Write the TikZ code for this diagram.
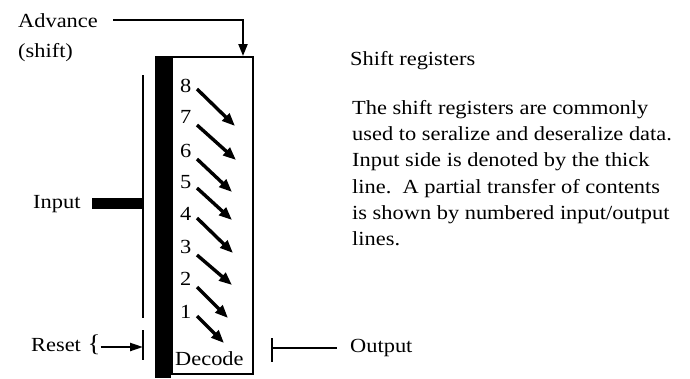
\documentclass[tikz,border=0pt]{standalone}
\usepackage{fontspec}
\setmainfont[FakeStretch=1.12]{Liberation Serif}
\usetikzlibrary{arrows.meta}
\begin{document}
\begin{tikzpicture}[x=1pt,y=-1pt,
  txt/.style={font=\fontsize{20}{26}\selectfont, inner sep=0pt, anchor=base west},
  num/.style={font=\fontsize{20}{22}\selectfont, inner sep=0pt, anchor=base west},
  bit/.style={line width=3.4pt, -{Triangle[length=13pt,width=10pt]}},
  wire/.style={line width=2.2pt},
  regbox/.style={draw=black, line width=2pt, inner sep=0pt, anchor=north west}]
\useasboundingbox (0,0) rectangle (690,378);
% register box
\node[regbox, minimum width=81pt, minimum height=317pt] (reg) at (171,56) {};
\fill ([xshift=-16pt]reg.north west) rectangle ([yshift=-3pt]reg.south west);
% advance
\node[txt] (adv) at (18,27) {Advance};
\node[txt] (shift) at (18,57) {(shift)};
\coordinate (advs) at (113,20);
\draw[wire, -{Triangle[length=12pt,width=9pt]}] (advs) -| ([xshift=-11pt]reg.north east);
% thin input-side line
\coordinate (lt) at (143,75);
\coordinate (lb) at (143,318);
\draw[wire] (lt) -- (lb);
% input
\node[txt] (in) at (33,208) {Input};
\coordinate (ins) at (92,203);
\coordinate (ine) at (143,203);
\draw[line width=11pt] (ins) -- (ine);
% reset
\node[txt] (rst) at (31,351) {Reset};
\node[font=\fontsize{24}{24}\selectfont, inner sep=0pt] (br) at (94,345) {\{};
\coordinate (rtick) at (143,347);
\coordinate (rt1) at (143,330);
\coordinate (rt2) at (143,360);
\draw[wire, -{Triangle[length=13pt,width=8pt]}] (br.east |- rtick) -- (rtick);
\draw[wire] (rt1) -- (rt2);
% output
\coordinate (ot1) at (272,338);
\coordinate (ot2) at (272,362);
\coordinate (oto) at (272,348);
\coordinate (ote) at (337,348);
\draw[wire] (ot1) -- (ot2);
\draw[wire] (oto) -- (ote);
\node[txt] (out) at (350,352) {Output};
% decode
\node[txt] (dec) at (175,365) {Decode};
% numbers and arrows
\foreach \i/\y in {8/92,7/123,6/157,5/188,4/220,3/253,2/285,1/318}
  \node[num] (n\i) at (180,\y) {\i};
\foreach \i/\sy/\dx/\dy in {8/89/38/37,7/125/39/35,6/159/35/33,5/188/35/32,4/218/36/35,3/255/35/30,2/287/31/31,1/316/27/27}{
  \coordinate (s\i) at (197,\sy);
  \draw[bit] (s\i) -- ++(\dx,\dy);
}
% description
\node[txt] (title) at (350,65) {Shift registers};
\node[txt] (l1) at (352,114) {The shift registers are commonly};
\node[txt] (l2) at (352,140) {used to seralize and deseralize data.};
\node[txt] (l3) at (352,166) {Input side is denoted by the thick};
\node[txt] (l4) at (352,193) {line.\ \ A partial transfer of contents};
\node[txt] (l5) at (352,219) {is shown by numbered input/output};
\node[txt] (l6) at (352,245) {lines.};
\end{tikzpicture}
\end{document}
